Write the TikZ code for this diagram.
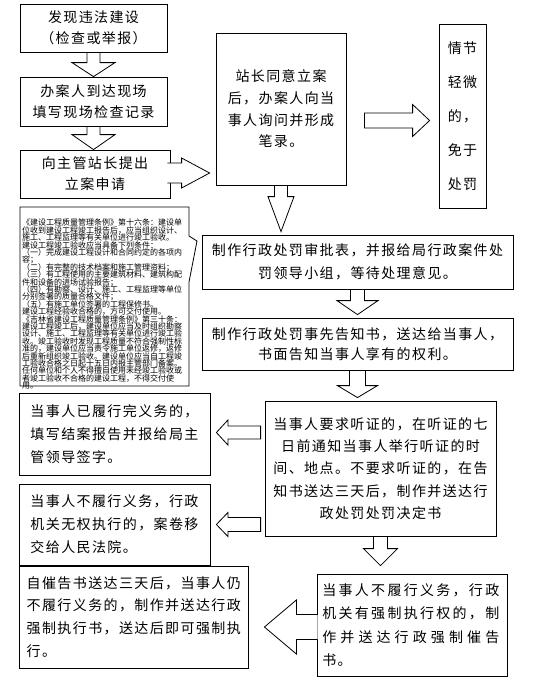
\documentclass[tikz,border=0pt]{standalone}
\usepackage{fontspec}
\setmainfont{Noto Sans CJK SC}[LetterSpace=10]
\newfontfamily\densefont{Noto Sans CJK SC}
\usetikzlibrary{calc}
\XeTeXlinebreaklocale "zh"
\XeTeXlinebreakskip=0pt plus 1pt
\newcommand\densesetup{\densefont\fontsize{8}{7.4}\selectfont\lineskiplimit=-20pt \lineskip=0pt \relax}
\def\spreadloop#1#2{#1\ifx\relax#2\else\hfil\expandafter\spreadloop\expandafter#2\fi}
\newcommand\spreadline[2]{\hbox to #1{\spreadloop#2\relax}}
\tikzset{
  box/.style={draw=black, line width=0.8pt, fill=white, inner sep=0pt, align=center},
  arr/.style={draw=black, line width=0.8pt, fill=white, line join=miter},
  callout/.style={draw=black, line width=0.8pt, fill=white, line join=miter},
}
% #1 tail anchor, #2 tip, #3 shaft half width, #4 head half width, #5 head length, #6 closing
\newcommand\arrdown[6]{\draw[arr] let \p1=(#1), \p2=(#2) in (\x1-#3pt,\y1) -- (\x1-#3pt,\y2+#5pt) -- (\x1-#4pt,\y2+#5pt) -- (\x1,\y2) -- (\x1+#4pt,\y2+#5pt) -- (\x1+#3pt,\y2+#5pt) -- (\x1+#3pt,\y1) #6;}
\newcommand\arrright[6]{\draw[arr] let \p1=(#1), \p2=(#2) in (\x1,\y2+#3pt) -- (\x2-#5pt,\y2+#3pt) -- (\x2-#5pt,\y2+#4pt) -- (\x2,\y2) -- (\x2-#5pt,\y2-#4pt) -- (\x2-#5pt,\y2-#3pt) -- (\x1,\y2-#3pt) #6;}
\newcommand\arrleft[6]{\draw[arr] let \p1=(#1), \p2=(#2) in (\x1,\y2+#3pt) -- (\x2+#5pt,\y2+#3pt) -- (\x2+#5pt,\y2+#4pt) -- (\x2,\y2) -- (\x2+#5pt,\y2-#4pt) -- (\x2+#5pt,\y2-#3pt) -- (\x1,\y2-#3pt) #6;}
\begin{document}
\begin{tikzpicture}[x=1pt,y=-1pt]
\useasboundingbox[fill=white] (0,0) rectangle (546,678);

% left column top
\node[box, minimum width=147pt, minimum height=48pt, font=\fontsize{14}{20.5}\selectfont] (b1) at (93.5,28) {发现违法建设\\（检查或举报）};
\node[box, minimum width=147pt, minimum height=49pt, font=\fontsize{14}{20.5}\selectfont] (b2) at (93.5,101.5) {办案人到达现场\\填写现场检查记录};
\node[box, minimum width=150pt, minimum height=48pt, font=\fontsize{14}{21}\selectfont] (b3) at (95,174) {向主管站长提出\\立案申请};

% center top
\node[box, minimum width=130pt, minimum height=152pt, font=\fontsize{14}{21.7}\selectfont] (b4) at (281,109) {站长同意立案\\后，办案人向当\\事人询问并形成\\笔录。};
\node[box, minimum width=47pt, minimum height=184pt, font=\fontsize{14}{34}\selectfont] (b6) at (462.5,116) {情节\\轻微\\的，\\免于\\处罚};

% center column
\node[box, minimum width=311pt, minimum height=54pt, font=\fontsize{14}{23.5}\selectfont] (b5) at (357.5,262) {制作行政处罚审批表，并报给局行政案件处\\罚领导小组，等待处理意见。};
\node[box, minimum width=311pt, minimum height=52pt, font=\fontsize{14}{20.5}\selectfont] (b7) at (357.5,344) {制作行政处罚事先告知书，送达给当事人，\\书面告知当事人享有的权利。};

\node[box, minimum width=231pt, minimum height=135pt, font=\fontsize{14}{22.3}\selectfont] (b8) at (380.5,468.5) {当事人要求听证的，在听证的七\\日前通知当事人举行听证的时\\间、地点。不要求听证的，在告\\知书送达三天后，制作并送达行\\政处罚处罚决定书};

% left column bottom
\node[box, align=left, minimum width=191pt, minimum height=82pt, font=\fontsize{14}{22.7}\selectfont] (b9) at (114.5,434) {当事人已履行完义务的，\\填写结案报告并报给局主\\管领导签字。};
\node[box, align=left, minimum width=191pt, minimum height=81pt, font=\fontsize{14}{23}\selectfont] (b10) at (114.5,524.5) {当事人不履行义务，行政\\机关无权执行的，案卷移\\交给人民法院。};
\node[box, align=left, minimum width=229.5pt, minimum height=102pt, font=\fontsize{14}{22.7}\selectfont] (b12) at (133.75,617) {自催告书送达三天后，当事人仍\\不履行义务的，制作并送达行政\\强制执行书，送达后即可强制执\\行。};
\node[box, align=left, minimum width=190pt, minimum height=102pt, font=\fontsize{14}{23.3}\selectfont] (b11) at (412,625) {\spreadline{177pt}{当事人不履行义务，行政}\\\spreadline{177pt}{机关有强制执行权的，制}\\\spreadline{177pt}{作并送达行政强制催告}\\书。\hspace*{150pt}};

% callout with legal text
\draw[callout] (20,207) -- (189,207) -- (189,236) -- (197,241) -- (189,282) -- (189,386) -- (20,386) -- cycle;
\node[anchor=north west, inner sep=0pt, align=left, font=\densesetup] (law) at (22,219) {《建设工程质量管理条例》第十六条：建设单\\位收到建设工程竣工报告后，应当组织设计、\\施工、工程监理等有关单位进行竣工验收。\\建设工程竣工验收应当具备下列条件：\\（一）完成建设工程设计和合同约定的各项内\\容；\\（二）有完整的技术档案和施工管理资料；\\（三）有工程使用的主要建筑材料、建筑构配\\件和设备的进场试验报告；\\（四）有勘察、设计、施工、工程监理等单位\\分别签署的质量合格文件；\\（五）有施工单位签署的工程保修书。\\建设工程经验收合格的，方可交付使用。\\《吉林省建设工程质量管理条例》第三十条：\\建设工程竣工后，建设单位应当及时组织勘察\\设计、施工、工程监理等有关单位进行竣工验\\收。竣工验收时发现工程质量不符合强制性标\\准的，建设单位应当责令施工单位返修，返修\\后重新组织竣工验收。建设单位应当自工程竣\\工验收合格之日起十五日内报主管部门备案。\\任何单位和个人不得擅自使用未经竣工验收或\\者竣工验收不合格的建设工程，不得交付使\\用。};

% block arrows
\arrdown{b1.south}{b2.north}{6.5}{21.5}{14}{-- cycle}
\arrdown{b2.south}{b3.north}{6.5}{21.5}{15}{-- cycle}
\arrright{$(b3.east)+(-3,0)$}{$(b4.west |- b3.east)+(-6,-1)$}{10}{15}{28}{}
\arrright{$(b4.east)+(18,0)$}{$(b6.west)+(-9,4.5)$}{7.5}{16}{17}{-- cycle}
\arrdown{b4.south}{$(b5.north)+(0,-3)$}{6.5}{13}{35}{-- cycle}
\arrdown{b5.south}{$(b7.north)+(0,-3)$}{7}{20.5}{14}{-- cycle}
\arrdown{b7.south}{$(b8.north)+(0,-3)$}{8}{20}{12}{-- cycle}
\arrleft{$(b8.west)+(-4,0)$}{$(b9.east)+(6,-1.5)$}{6.5}{12.5}{11.5}{-- cycle}
\arrleft{$(b8.west)+(-4,0)$}{$(b10.east)+(6,0)$}{7}{12}{11.5}{-- cycle}
\arrdown{b8.south}{$(b11.north)+(0,-8)$}{7}{17}{17}{-- cycle}
\arrleft{$(b11.west)+(1,0)$}{$(b12.east)+(15.5,10)$}{12.5}{27}{32}{}
\end{tikzpicture}
\end{document}
